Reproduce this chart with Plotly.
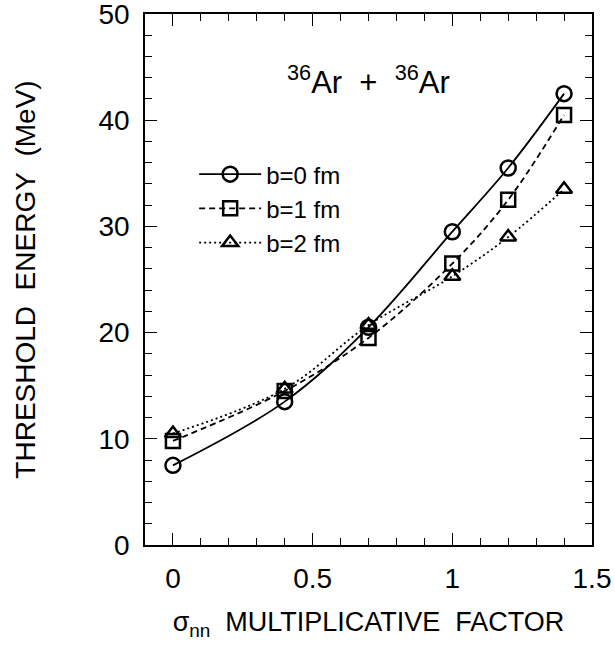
import plotly.graph_objects as go

# data
sigma_factor = [0.0, 0.4, 0.7, 1.0, 1.2, 1.4]
e_b0 = [7.5, 13.5, 20.5, 29.5, 35.5, 42.5]
e_b1 = [9.8, 14.5, 19.5, 26.5, 32.5, 40.5]
e_b2 = [10.5, 14.7, 20.7, 25.3, 29.0, 33.5]
series_names = ["b=0 fm", "b=1 fm", "b=2 fm"]
x_tickvals = [0, 0.5, 1, 1.5]
x_ticktext = ["0", "0.5", "1", "1.5"]
y_tickvals = [0, 10, 20, 30, 40, 50]

FONT = "Liberation Sans, Arial, sans-serif"

fig = go.Figure()
styles = [
    (e_b0, "solid", "circle-open", 15),
    (e_b1, "6px,4px", "square-open", 14),
    (e_b2, "2px,3px", "triangle-up-open", 14),
]
for name, (vals, dash, sym, sz) in zip(series_names, styles):
    fig.add_trace(go.Scatter(
        x=sigma_factor, y=vals, name=name, mode="lines+markers",
        line=dict(color="black", width=1.8, dash=dash, shape="spline", smoothing=1.0),
        marker=dict(symbol=sym, size=sz, color="black", line=dict(color="black", width=2.5)),
    ))

fig.add_annotation(
    text="<sup>36</sup>Ar\u00a0\u00a0+\u00a0\u00a0<sup>36</sup>Ar",
    x=0.7, y=43.8, xref="x", yref="y", showarrow=False,
    font=dict(family=FONT, size=31, color="black"),
)

axis_common = dict(
    showline=True, linecolor="black", linewidth=1.5, mirror="ticks",
    ticks="inside", tickcolor="black", tickwidth=1, ticklen=12,
    showgrid=False, zeroline=False, automargin=False,
    ticklabeloverflow="allow",
    tickfont=dict(family=FONT, size=28, color="black"),
)
fig.update_xaxes(
    range=[-0.1, 1.5], tickvals=x_tickvals, ticktext=x_ticktext,
    minor=dict(ticks="inside", ticklen=7, dtick=0.1, tick0=0, tickcolor="black", showgrid=False),
    ticklabelstandoff=8,
    title=dict(text="σ<sub>nn</sub>\u00a0\u00a0MULTIPLICATIVE\u00a0\u00a0FACTOR", standoff=19,
               font=dict(family=FONT, size=27, color="black")),
    **axis_common,
)
fig.update_yaxes(
    range=[0, 50], tickvals=y_tickvals,
    minor=dict(ticks="inside", ticklen=7, dtick=2, tick0=0, tickcolor="black", showgrid=False),
    ticklabelstandoff=8,
    title=dict(text="THRESHOLD\u00a0\u00a0ENERGY\u00a0\u00a0(MeV)", standoff=55,
               font=dict(family=FONT, size=28, color="black")),
    **axis_common,
)
fig.update_layout(
    width=615, height=658,
    margin=dict(l=145, r=23, t=14, b=113),
    paper_bgcolor="white", plot_bgcolor="white",
    legend=dict(x=0.11, y=0.74, xanchor="left", yanchor="top",
                font=dict(family=FONT, size=24, color="black"),
                bgcolor="rgba(0,0,0,0)", itemwidth=62, tracegroupgap=0),
    showlegend=True,
)
fig.write_html("out.html", config={"displayModeBar": False},
               post_script="document.body.style.margin='0';")
